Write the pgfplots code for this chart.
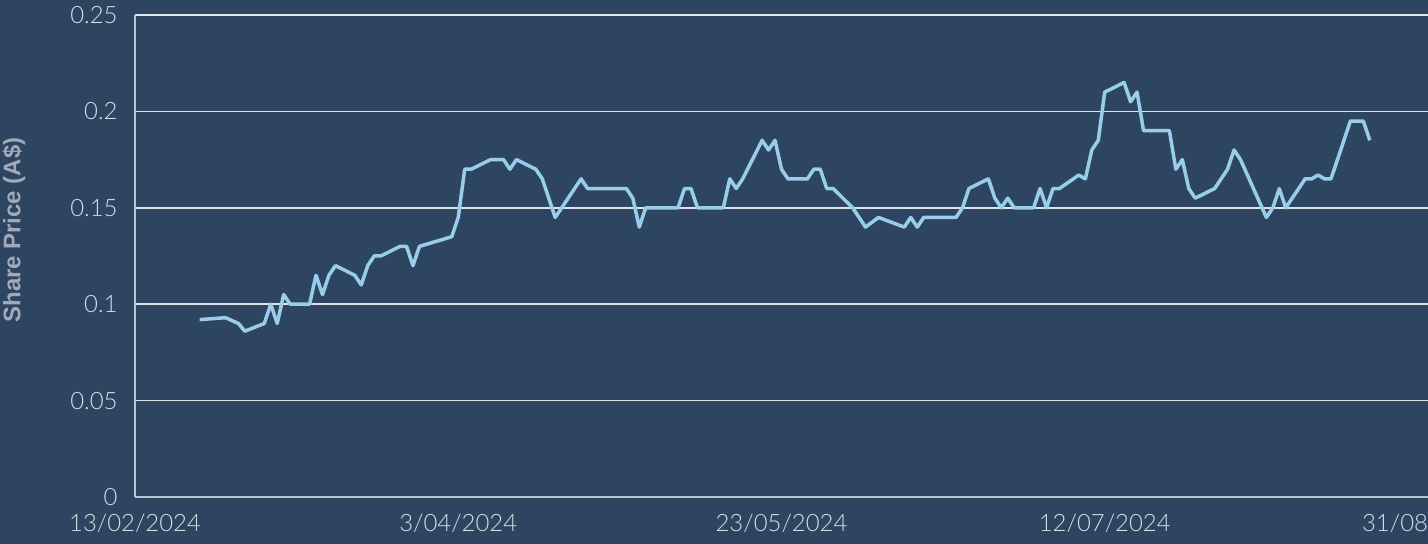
\documentclass[border=0pt]{standalone}
\usepackage{fontspec}
\usepackage{pgfplots}
\pgfplotsset{compat=1.18}
\setmainfont{Lato}
\newfontfamily\tickfont{Lato Light}
\newfontfamily\labelfont{Liberation Sans}

\definecolor{bg}{RGB}{46,69,97}
\definecolor{lineblue}{RGB}{152,205,235}
\definecolor{gridc}{RGB}{222,228,236}
\definecolor{axisc}{RGB}{185,196,212}
\definecolor{tickc}{RGB}{215,222,230}
\definecolor{labc}{RGB}{160,170,186}

\begin{document}
\begin{tikzpicture}
\fill[bg] (-135bp,-47bp) rectangle (1293bp,497bp);
\begin{axis}[
    name=ax,
    scale only axis,
    width=1293bp, height=482bp,
    xmin=0, xmax=200,
    ymin=0, ymax=0.25,
    xtick={0,50,100,150,200},
    xticklabels={13/02/2024,3/04/2024,23/05/2024,12/07/2024,31/08/2024},
    ytick={0,0.05,0.1,0.15,0.2,0.25},
    yticklabel style={/pgf/number format/fixed, /pgf/number format/precision=2},
    /pgf/number format/assume math mode=true,
    ticklabel style={font=\tickfont\fontsize{24}{26}\selectfont, text=tickc},
    xticklabel style={yshift=-14bp},
    yticklabel style={xshift=-14bp},
    major tick length=0pt,
    axis x line*=bottom, axis y line*=left,
    axis line style={draw=axisc, line width=1.5bp, -},
    ymajorgrids,
    grid style={draw=gridc, line width=1.5bp},
    ylabel={Share Price (A\$)},
    ylabel style={at={(axis description cs:-0.0936,0.554)}, anchor=center, rotate=0,
        font=\labelfont\bfseries\fontsize{24}{26}\selectfont, text=labc},
    clip=false,
]
\addplot[color=lineblue, line width=3.5bp, line join=round] coordinates {
(10,0.092) (14,0.093) (16,0.090) (17,0.086) (20,0.090) (21,0.100) (22,0.090)
(23,0.105) (24,0.100) (27,0.100) (28,0.115) (29,0.105) (30,0.115) (31,0.120)
(34,0.115) (35,0.110) (36,0.120) (37,0.125) (38,0.125) (41,0.130) (42,0.130)
(43,0.120) (44,0.130) (49,0.135) (50,0.145) (51,0.170) (52,0.170) (55,0.175)
(57,0.175) (58,0.170) (59,0.175) (62,0.170) (63,0.165) (65,0.145) (69,0.165)
(70,0.160) (76,0.160) (77,0.155) (78,0.140) (79,0.150) (84,0.150) (85,0.160)
(86,0.160) (87,0.150) (91,0.150) (92,0.165) (93,0.160) (94,0.165) (97,0.185)
(98,0.180) (99,0.185) (100,0.170) (101,0.165) (104,0.165) (105,0.170) (106,0.170)
(107,0.160) (108,0.160) (111,0.150) (113,0.140) (115,0.145) (119,0.140) (120,0.145)
(121,0.140) (122,0.145) (127,0.145) (128,0.150) (129,0.160) (132,0.165) (133,0.155)
(134,0.150) (135,0.155) (136,0.150) (139,0.150) (140,0.160) (141,0.150) (142,0.160)
(143,0.160) (146,0.167) (147,0.165) (148,0.180) (149,0.185) (150,0.210) (153,0.215)
(154,0.205) (155,0.210) (156,0.190) (160,0.190) (161,0.170) (162,0.175) (163,0.160)
(164,0.155) (167,0.160) (169,0.170) (170,0.180) (171,0.175) (175,0.145) (176,0.150)
(177,0.160) (178,0.150) (181,0.165) (182,0.165) (183,0.167) (184,0.165) (185,0.165)
(188,0.195) (190,0.195) (191,0.185)
};
\end{axis}
\pgfresetboundingbox
\path[use as bounding box] (-135bp,-47bp) rectangle (1293bp,497bp);
\end{tikzpicture}
\end{document}
